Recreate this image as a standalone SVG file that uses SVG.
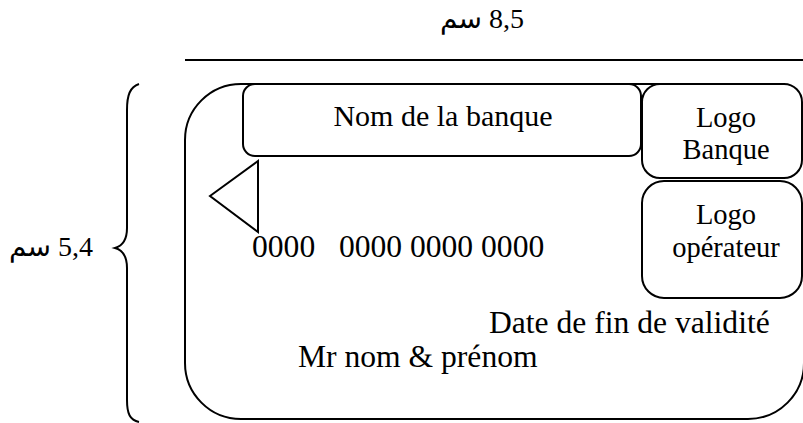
<svg xmlns="http://www.w3.org/2000/svg" width="803" height="423" viewBox="0 0 803 423">
<style>
.s{fill:none;stroke:#000;stroke-width:2}
.b{fill:#fff;stroke:#000;stroke-width:2}
.t{font-family:"Liberation Serif","Times New Roman","DejaVu Sans",serif;font-size:31.6px;fill:#000}
.m{font-size:30px}
.a{font-size:28px}
.l{font-size:28.5px}
.c{text-anchor:middle}
</style>
<rect width="803" height="423" fill="#fff"/>
<g id="dimensions">
<line class="s" x1="185" y1="60" x2="803" y2="60"/>
<text class="t a c" x="482" y="28" direction="rtl" unicode-bidi="embed">8,5 سم</text>
<path class="s" d="M139,84 C130,87 127,95 127,110 L127,228 C127,240 122,246 115,248 C122,250 127,256 127,268 L127,400 C127,414 130,420 139,422"/>
<text class="t a c" x="51" y="256" direction="rtl" unicode-bidi="embed">5,4 سم</text>
</g>
<g id="card">
<rect class="s" x="185" y="84" width="619" height="335" rx="56" ry="56"/>
</g>
<g id="bank-name">
<rect class="b" x="243" y="84" width="398" height="72" rx="12" ry="12"/>
<text class="t m c" x="443" y="126">Nom de la banque</text>
</g>
<g id="logo-bank">
<rect class="b" x="642" y="84" width="160" height="94" rx="18" ry="18"/>
<text class="t l c" x="726" y="127">Logo</text>
<text class="t l c" x="726" y="159">Banque</text>
</g>
<g id="logo-operator">
<rect class="b" x="642" y="181" width="160" height="117" rx="22" ry="22"/>
<text class="t l c" x="726" y="224">Logo</text>
<text class="t l c" x="726" y="257">opérateur</text>
</g>
<g id="chip">
<polygon class="s" points="210,196 258,161 258,232"/>
</g>
<g id="texts">
<text class="t" x="252" y="257" xml:space="preserve">0000   0000 0000 0000</text>
<text class="t" x="489" y="333">Date de fin de validité</text>
<text class="t" x="298" y="367">Mr nom &amp; prénom</text>
</g>
</svg>
